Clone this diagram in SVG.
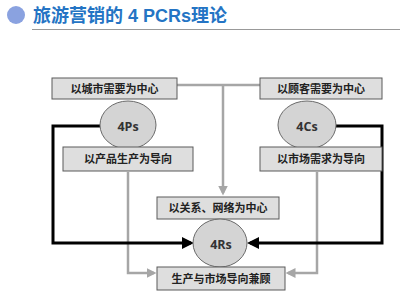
<svg xmlns="http://www.w3.org/2000/svg" width="400" height="298" viewBox="0 0 400 298">
<defs>
<style>
.box{fill:#dedede;stroke:#5a5a5a;stroke-width:1}
.ell{fill:#d4d4d4;stroke:#6a6a6a;stroke-width:1}
.bt{font-family:"Liberation Sans","Noto Sans CJK SC",sans-serif;font-size:11px;font-weight:bold;fill:#222;text-anchor:middle}
.et{font-family:"Open Sans","Liberation Sans",sans-serif;font-size:12.5px;font-weight:bold;fill:#333;text-anchor:middle}
.gray{fill:none;stroke:#a6a6a6;stroke-width:2.5}
.blk{fill:none;stroke:#000;stroke-width:3}
</style>
<marker id="ag" markerWidth="4" markerHeight="4" refX="3" refY="2" orient="auto" markerUnits="strokeWidth"><path d="M0,0 L4,2 L0,4 z" fill="#a6a6a6"/></marker>
<marker id="ab" markerWidth="4" markerHeight="4" refX="3" refY="2" orient="auto" markerUnits="strokeWidth"><path d="M0,0 L4,2 L0,4 z" fill="#000"/></marker>
</defs>
<rect width="400" height="298" fill="#fff"/>
<g id="title">
<circle cx="16" cy="15" r="9" fill="#8aa2e0"/>
<text x="33" y="22" font-family="Liberation Sans,'Noto Sans CJK SC',sans-serif" font-size="18" font-weight="bold" fill="#2474c4">旅游营销的 4 PCRs理论</text>
<line x1="32" y1="29.5" x2="400" y2="29.5" stroke="#999" stroke-width="1"/>
</g>
<g id="connectors">
<path class="gray" d="M177,85 H260"/>
<path class="gray" d="M223,85 V193" marker-end="url(#ag)"/>
<path class="gray" d="M128,172 V273 H154" marker-end="url(#ag)"/>
<path class="gray" d="M317,172 V273 H288" marker-end="url(#ag)"/>
<path class="blk" d="M100,126 H53 V243 H191" marker-end="url(#ab)"/>
<path class="blk" d="M336,126 H382 V243 H250" marker-end="url(#ab)"/>
</g>
<g id="n1"><rect class="box" x="52" y="78" width="125" height="21"/><text class="bt" x="114.5" y="92.5">以城市需要为中心</text></g>
<g id="n2"><rect class="box" x="260" y="78" width="122" height="21"/><text class="bt" x="321" y="92.5">以顾客需要为中心</text></g>
<g id="n4ps"><ellipse class="ell" cx="128" cy="125" rx="28" ry="24"/><text class="et" x="128" y="131">4Ps</text></g>
<g id="n4cs"><ellipse class="ell" cx="307" cy="125" rx="29" ry="24"/><text class="et" x="307" y="131">4Cs</text></g>
<g id="n3"><rect class="box" x="63" y="147" width="130" height="24"/><text class="bt" x="128" y="163">以产品生产为导向</text></g>
<g id="n5"><rect class="box" x="260" y="147" width="122" height="24"/><text class="bt" x="321" y="163">以市场需求为导向</text></g>
<g id="n6"><rect class="box" x="157" y="197" width="122" height="22"/><text class="bt" x="218" y="212">以关系、网络为中心</text></g>
<g id="n4rs"><ellipse class="ell" cx="220" cy="243" rx="27" ry="24"/><text class="et" x="221" y="249">4Rs</text></g>
<g id="n7"><rect class="box" x="157" y="267" width="128" height="23"/><text class="bt" x="221" y="282.5">生产与市场导向兼顾</text></g>
</svg>
